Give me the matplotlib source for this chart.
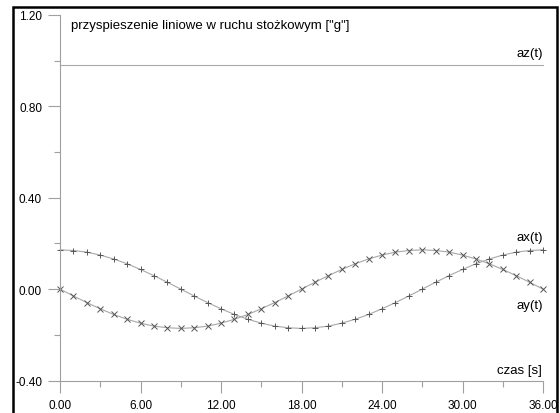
import matplotlib
matplotlib.use("Agg")
import matplotlib.pyplot as plt
from matplotlib.patches import Rectangle
from matplotlib.ticker import MultipleLocator, FormatStrFormatter

plt.rcParams['font.family'] = ['Liberation Sans', 'DejaVu Sans']
plt.rcParams['axes.unicode_minus'] = False

# data
t = list(range(0, 37))
ax_vals = [0.172, 0.169, 0.162, 0.149, 0.132, 0.111, 0.086, 0.059, 0.030, 0.000,
           -0.030, -0.059, -0.086, -0.111, -0.132, -0.149, -0.162, -0.169, -0.172,
           -0.169, -0.162, -0.149, -0.132, -0.111, -0.086, -0.059, -0.030, 0.000,
           0.030, 0.059, 0.086, 0.111, 0.132, 0.149, 0.162, 0.169, 0.172]
ay_vals = [0.000, -0.030, -0.059, -0.086, -0.111, -0.132, -0.149, -0.162, -0.169, -0.172,
           -0.169, -0.162, -0.149, -0.132, -0.111, -0.086, -0.059, -0.030, 0.000,
           0.030, 0.059, 0.086, 0.111, 0.132, 0.149, 0.162, 0.169, 0.172,
           0.169, 0.162, 0.149, 0.132, 0.111, 0.086, 0.059, 0.030, 0.000]
az_t = [0, 36]
az_vals = [0.982, 0.982]

title = 'przyspieszenie liniowe w ruchu stożkowym ["g"]'

W, H = 560, 414
fig = plt.figure(figsize=(W / 100, H / 100), dpi=100)
ax = fig.add_axes([60 / W, 1 - 381.5 / H, 483 / W, (381.5 - 16) / H])

line_c = '#a8a8a8'
mark_c = '#555555'
ax.plot(az_t, az_vals, color=line_c, lw=0.8, clip_on=False)
ax.plot(t, ax_vals, color=line_c, lw=0.8, clip_on=False)
ax.plot(t, ax_vals, ls='none', marker='+', ms=5, mew=0.7, color=mark_c, clip_on=False)
ax.plot(t, ay_vals, color=line_c, lw=0.8, clip_on=False)
ax.plot(t, ay_vals, ls='none', marker='x', ms=4.5, mew=0.7, color=mark_c, clip_on=False)

ax.set_xlim(0, 36)
ax.set_ylim(-0.4, 1.2)
for s in ['top', 'right']:
    ax.spines[s].set_visible(False)
for s in ['left', 'bottom']:
    ax.spines[s].set_color('#a0a0a0')
    ax.spines[s].set_linewidth(0.8)

ax.xaxis.set_major_locator(MultipleLocator(6))
ax.xaxis.set_minor_locator(MultipleLocator(3))
ax.yaxis.set_major_locator(MultipleLocator(0.4))
ax.yaxis.set_minor_locator(MultipleLocator(0.2))
ax.xaxis.set_major_formatter(FormatStrFormatter('%.2f'))
ax.yaxis.set_major_formatter(FormatStrFormatter('%.2f'))
ax.tick_params(which='major', length=8.6, width=0.8, color='#a0a0a0', labelsize=8.5, pad=4.3)
ax.tick_params(which='minor', length=4.5, width=0.8, color='#a0a0a0')
ax.tick_params(axis='x', which='major', pad=4.5)

fs = 9.5
fig.text(71 / W, 1 - 26 / H, title, fontsize=fs, va='center', ha='left')
fig.text(543 / W, 1 - 54 / H, 'az(t)', fontsize=fs, va='center', ha='right')
fig.text(543 / W, 1 - 238 / H, 'ax(t)', fontsize=fs, va='center', ha='right')
fig.text(543 / W, 1 - 306 / H, 'ay(t)', fontsize=fs, va='center', ha='right')
fig.text(542 / W, 1 - 371 / H, 'czas [s]', fontsize=fs, va='center', ha='right')

frame = Rectangle((13 / W, -0.2), (557 - 13) / W, 1.2 - 8 / H, transform=fig.transFigure,
                  fill=False, edgecolor='black', lw=1.8, clip_on=False)
fig.patches.append(frame)

fig.savefig('out.png', dpi=100)
